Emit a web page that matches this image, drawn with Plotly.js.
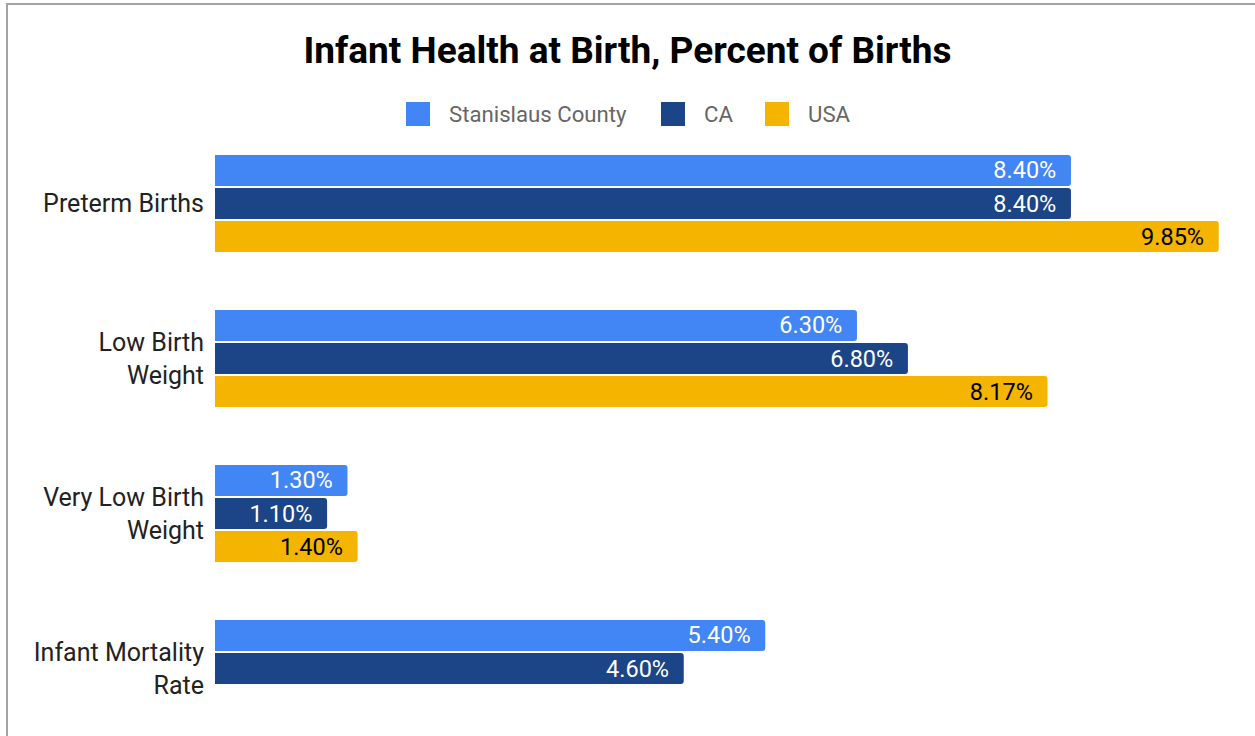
<!DOCTYPE html>
<html><head><meta charset="utf-8">
<script src="https://cdn.plot.ly/plotly-3.0.1.min.js"></script>
<style>html,body{margin:0;padding:0;background:#fff;overflow:hidden}
#chart{width:1255px;height:736px}
#frame{position:absolute;left:6px;top:3px;width:1300px;height:800px;border-left:2px solid #a3a3a3;border-top:2px solid #a3a3a3;pointer-events:none}
</style></head><body>
<div id="chart"></div><div id="frame"></div>
<script>
const categories = ["Preterm Births","Low Birth Weight","Very Low Birth Weight","Infant Mortality Rate"];
const tickLabels = ["Preterm Births","Low Birth<br>Weight","Very Low Birth<br>Weight","Infant Mortality<br>Rate"];
const seriesNames = ["Stanislaus County","CA","USA"];
const stanislaus = [8.40,6.30,1.30,5.40];
const ca = [8.40,6.80,1.10,4.60];
const usa = [9.85,8.17,1.40,null];
const colors = ["#4285f4","#1c4587","#f4b400"];
const textColors = ["#ffffff","#ffffff","#000000"];

const W=1255,H=736,ML=215,MR=20,MT=126,MB=0;
const PW=W-ML-MR, PH=H-MT-MB;
const px2x = p => (p-ML)/PW;
const py2y = p => (H-MB-p)/PH;

const values=[stanislaus,ca,usa];
const traces = values.map((v,i)=>({
  type:'bar', orientation:'h', name:seriesNames[i],
  y:categories, x:v,
  marker:{color:colors[i], cornerradius:3},
  texttemplate:'%{x:.2f}%\u00a0\u00a0',
  textposition:'inside', insidetextanchor:'end', textangle:0, constraintext:'none',
  insidetextfont:{family:'Roboto', size:23.5, color:textColors[i]},
  hoverinfo:'none'
}));

const swatchLeft=[406,661,765], textLeft=[447,702,806], legendY=114;
const shapes = seriesNames.map((n,i)=>({
  type:'rect', xref:'paper', yref:'paper',
  x0:px2x(swatchLeft[i]), x1:px2x(swatchLeft[i]+24),
  y0:py2y(legendY-12), y1:py2y(legendY+12),
  fillcolor:colors[i], line:{width:0}
}));
const annotations = seriesNames.map((n,i)=>({
  text:n, xref:'paper', yref:'paper', x:px2x(textLeft[i]), y:py2y(legendY),
  xanchor:'left', yanchor:'middle', showarrow:false,
  font:{family:'Roboto', size:22.2, color:'#666666'}
}));

const layout = {
  width:W, height:H, margin:{l:ML,r:MR,t:MT,b:MB},
  paper_bgcolor:'#fff', plot_bgcolor:'#fff',
  title:{text:'Infant Health at Birth, Percent of Births', x:0.5, xanchor:'center',
    y:1-50/H, yref:'container', yanchor:'middle',
    font:{family:'Roboto', size:37, weight:700, color:'#000'}},
  showlegend:false,
  barmode:'group', bargap:0.36, bargroupgap:0.06,
  xaxis:{range:[0,PW/101.9], showgrid:false, zeroline:false, showticklabels:false, showline:false, ticks:''},
  yaxis:{type:'category', categoryarray:categories, tickvals:categories, ticktext:tickLabels,
    range:[-0.5+PH/155, -0.5], showgrid:false, zeroline:false, showline:false, ticks:'',
    ticklabelstandoff:10, tickfont:{family:'Roboto', size:25, color:'#222222'}},
  shapes:shapes, annotations:annotations, font:{family:'Roboto'}
};
Plotly.newPlot('chart', traces, layout, {displayModeBar:false, staticPlot:true});
</script></body></html>
